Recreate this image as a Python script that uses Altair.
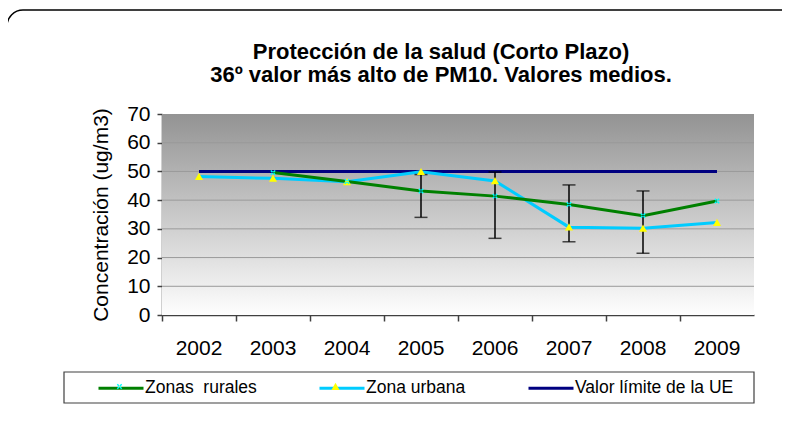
import altair as alt
import pandas as pd

# ---- data ----
years = ["2002", "2003", "2004", "2005", "2006", "2007", "2008", "2009"]
rural = [None, 49.6, 46.5, 43.2, 41.4, 38.5, 34.6, 39.7]
urban = [48.2, 47.6, 46.4, 49.9, 46.7, 30.6, 30.2, 32.2]
limit = [50, 50, 50, 50, 50, 50, 50, 50]
err_years = ["2005", "2006", "2007", "2008"]
err_low = [34.0, 26.7, 25.5, 21.5]
err_high = [48.9, 49.8, 45.3, 43.2]
y_ticks = [0, 10, 20, 30, 40, 50, 60, 70]
grid_values = [10, 20, 30, 40, 50, 60]

S_RURAL = "Zonas\u00a0 rurales"
S_URBAN = "Zona urbana"
S_LIMIT = "Valor límite de la UE"
series_order = [S_RURAL, S_URBAN, S_LIMIT]
title_lines = ["Protección de la salud (Corto Plazo)",
               "36º valor más alto de PM10. Valores medios."]

W, H = 592, 201
FONT = "Liberation Sans"

rows = []
for y, v in zip(years, limit):
    rows.append({"year": y, "value": v, "serie": S_LIMIT})
for y, v in zip(years, urban):
    rows.append({"year": y, "value": v, "serie": S_URBAN})
for y, v in zip(years, rural):
    if v is not None:
        rows.append({"year": y, "value": v, "serie": S_RURAL})
lines_df = pd.DataFrame(rows)
pts_df = lines_df[lines_df["serie"] != S_LIMIT]
err_df = pd.DataFrame({"year": err_years, "low": err_low, "high": err_high})
grid_df = pd.DataFrame({"g": grid_values})
one = pd.DataFrame({"k": [0]})

x_enc = alt.X("year:O", scale=alt.Scale(type="band", domain=years, paddingInner=0, paddingOuter=0),
              axis=alt.Axis(title=None, bandPosition=0, labelAngle=0,
                            labelFontSize=21, labelPadding=16, tickSize=6, tickWidth=1.5,
                            domainWidth=1.5, grid=False, labelOverlap=False))
y_scale = alt.Scale(domain=[0, 70], nice=False, zero=True)
y_axis = alt.Axis(title="Concentración (ug/m3)", values=y_ticks, grid=False, tickSize=5,
                  tickWidth=1.5, domainWidth=1.5, labelFontSize=21, labelPadding=7,
                  titleFontSize=21, titleFontWeight="normal", titlePadding=15,
                  labelOverlap=False)


def yq(field):
    return alt.Y(field, scale=y_scale, axis=y_axis)


frame = alt.Chart(one).mark_rect(fill="transparent", stroke="black", strokeWidth=1.5,
                                 cornerRadius=16).encode(
    x=alt.value(-155), x2=alt.value(W + 80), y=alt.value(-104), y2=alt.value(H + 150))

legend_box = alt.Chart(one).mark_rect(fill="white", stroke="#404040", strokeWidth=1.2).encode(
    x=alt.value(-98), x2=alt.value(W), y=alt.value(258), y2=alt.value(289))

bg = alt.Chart(one).mark_rect(
    color=alt.LinearGradient(gradient="linear",
                             stops=[alt.GradientStop(offset=0, color="#939393"),
                                    alt.GradientStop(offset=1, color="#fefefe")],
                             x1=0, x2=0, y1=0, y2=1)
).encode(x=alt.value(0), x2=alt.value(W), y=alt.value(0), y2=alt.value(H))

grid = alt.Chart(grid_df).mark_rule(color="#9a9a9a", strokeWidth=1).encode(y=yq("g:Q"))

lines = alt.Chart(lines_df).mark_line(strokeWidth=3).encode(
    x=x_enc,
    y=yq("value:Q"),
    color=alt.Color("serie:N",
                    scale=alt.Scale(domain=series_order, range=["#008000", "#00ccff", "#000080"]),
                    legend=alt.Legend(title=None, orient="none", legendX=-65, legendY=250,
                                      direction="horizontal", symbolType="M-1,0L1,0",
                                      symbolSize=2025, symbolStrokeWidth=3, labelOffset=0,
                                      columnPadding=56, labelFontSize=17.5, labelFont=FONT,
                                      labelColor="black", padding=0, zindex=0)),
)

err_rule = alt.Chart(err_df).mark_rule(color="black", strokeWidth=1.5).encode(
    x=x_enc, y=yq("low:Q"), y2="high:Q")
cap_low = alt.Chart(err_df).mark_tick(color="black", thickness=1.5, size=13).encode(
    x=x_enc, y=yq("low:Q"))
cap_high = alt.Chart(err_df).mark_tick(color="black", thickness=1.5, size=13).encode(
    x=x_enc, y=yq("high:Q"))

X_PATH = ("M-0.12,-0.075L-0.075,-0.12L0.12,0.075L0.075,0.12Z "
          "M0.12,-0.075L0.075,-0.12L-0.12,0.075L-0.075,0.12Z")
TRI_PATH = "M0,-0.17L0.18,0.15L-0.18,0.15Z"
pt_domain = [S_RURAL, S_URBAN]
pt_legend = alt.Legend(title=None, orient="none", legendX=-65, legendY=250,
                       direction="horizontal", symbolSize=2025, symbolStrokeWidth=0,
                       labelOffset=3, columnPadding=56, labelFontSize=17.5, labelFont=FONT,
                       labelOpacity=0, padding=0, zindex=1)
points = alt.Chart(pts_df).mark_point(filled=True, size=2025, opacity=1, strokeWidth=0).encode(
    x=x_enc,
    y=yq("value:Q"),
    color=alt.Color("serie:N", scale=alt.Scale(domain=pt_domain, range=["#00ffff", "#ffff00"]),
                    legend=pt_legend),
    shape=alt.Shape("serie:N", scale=alt.Scale(domain=pt_domain, range=[X_PATH, TRI_PATH]),
                    legend=pt_legend),
)

chart = alt.layer(
    frame, legend_box, bg, grid, lines, err_rule, cap_low, cap_high, points
).resolve_scale(color="independent", shape="independent").properties(
    width=W, height=H,
    autosize=alt.AutoSizeParams(type="none"),
    padding={"left": 154, "top": 106, "right": 28, "bottom": 110},
    title=alt.TitleParams(text=title_lines, font=FONT, fontSize=22, fontWeight="bold",
                          anchor="middle", dx=-17, dy=82, lineHeight=23, color="black"),
).configure_axis(
    labelFont=FONT, titleFont=FONT, labelColor="black", titleColor="black",
    domainColor="#404040", tickColor="#404040"
).configure_view(stroke="transparent")

chart.save("out.html", embed_options={"renderer": "svg", "actions": False})
